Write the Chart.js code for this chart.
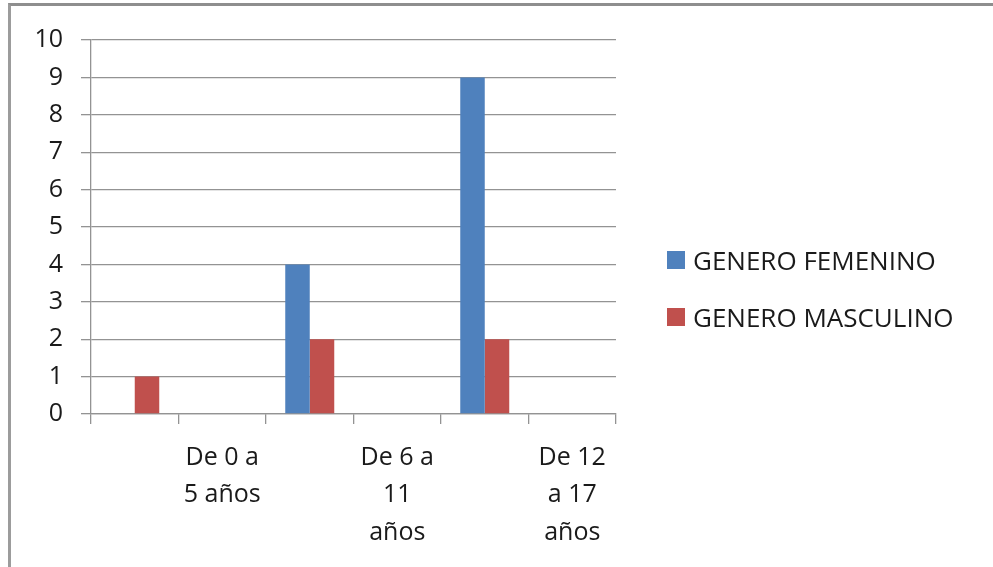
<!DOCTYPE html>
<html>
<head>
<meta charset="utf-8">
<script src="https://cdn.jsdelivr.net/npm/chart.js@4"></script>
<style>
  html, body { margin: 0; padding: 0; background: #fff; overflow: hidden; }
  #wrap { position: relative; width: 993px; height: 567px; }
  #frame {
    position: absolute; left: 8px; top: 3px; width: 1000px; height: 600px;
    border-left: 3px solid #9c9c9c; border-top: 3px solid #8e8e8e;
  }
  #chart { position: absolute; left: 0; top: 0; }
  #legend { position: absolute; left: 667px; top: 245px; font: 26px 'Open Sans', sans-serif; color: #1a1a1a; }
  .item { display: flex; align-items: center; height: 30px; margin-bottom: 27px; white-space: nowrap; }
  .box { width: 18px; height: 18px; margin-right: 8px; }
</style>
</head>
<body>
<div id="wrap">
  <div id="frame"></div>
  <canvas id="chart" width="993" height="567"></canvas>
  <div id="legend"></div>
</div>
<script>
// datos
const categories = ['', ['De 0 a', '5 años'], '', ['De 6 a', '11', 'años'], '', ['De 12', 'a 17', 'años']];
const femenino = [0, 0, 4, 0, 9, 0];
const masculino = [1, 0, 2, 0, 2, 0];
const seriesNames = ['GENERO FEMENINO', 'GENERO MASCULINO'];
const seriesColors = ['#4f81bd', '#c0504d'];

Chart.defaults.font.family = "'Open Sans', sans-serif";
Chart.defaults.font.size = 25;
Chart.defaults.color = '#1a1a1a';

const gridColor = '#939393';

const chart = new Chart(document.getElementById('chart').getContext('2d'), {
  type: 'bar',
  data: {
    labels: categories,
    datasets: [
      { label: seriesNames[0], data: femenino, backgroundColor: seriesColors[0] },
      { label: seriesNames[1], data: masculino, backgroundColor: seriesColors[1] }
    ]
  },
  options: {
    responsive: false,
    animation: false,
    categoryPercentage: 0.56,
    barPercentage: 1,
    layout: { padding: { left: 0, top: 40, right: 377, bottom: 0 } },
    plugins: {
      legend: { display: false },
      tooltip: { enabled: false }
    },
    scales: {
      x: {
        grid: { drawOnChartArea: false, drawTicks: true, tickLength: 10, color: gridColor, offset: true, lineWidth: 1.3 },
        border: { color: gridColor, width: 1.3 },
        ticks: { autoSkip: false, maxRotation: 0, padding: 15, font: { lineHeight: 1.5 } },
        afterFit(scale) { scale.height = 153; }
      },
      y: {
        min: 0,
        max: 10,
        ticks: { stepSize: 1, padding: 18 },
        grid: { color: gridColor, tickLength: 10, lineWidth: 1.3 },
        border: { color: gridColor, width: 1.3 },
        afterFit(scale) { scale.width = 91; }
      }
    }
  }
});

// leyenda a la derecha
document.getElementById('legend').innerHTML = chart.data.datasets.map(ds => `
  <div class="item"><span class="box" style="background:${ds.backgroundColor}"></span>${ds.label}</div>
`).join('');
</script>
</body>
</html>
